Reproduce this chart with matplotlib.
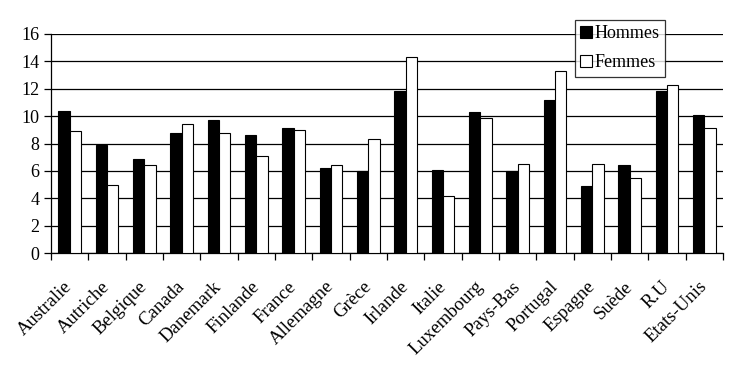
import numpy as np
import matplotlib
matplotlib.use("Agg")
import matplotlib.pyplot as plt
import matplotlib.transforms as mtransforms

pays = ["Australie", "Autriche", "Belgique", "Canada", "Danemark", "Finlande",
        "France", "Allemagne", "Grèce", "Irlande", "Italie", "Luxembourg",
        "Pays-Bas", "Portugal", "Espagne", "Suède", "R.U", "Etats-Unis"]
hommes = [10.4, 7.9, 6.9, 8.8, 9.7, 8.6, 9.1, 6.2, 6.0, 11.8, 6.1, 10.3,
          6.0, 11.2, 4.9, 6.4, 11.8, 10.1]
femmes = [8.9, 5.0, 6.4, 9.4, 8.8, 7.1, 9.0, 6.4, 8.3, 14.3, 4.2, 9.9,
          6.5, 13.3, 6.5, 5.5, 12.3, 9.1]

plt.rcParams['font.family'] = ['Liberation Serif', 'DejaVu Serif']

fig = plt.figure(figsize=(7.45, 3.69), dpi=100)
ax = fig.add_axes([0.0685, 0.314, 0.902, 0.594])

x = np.arange(len(pays))
w = 0.3
ax.bar(x - w / 2, hommes, w, color='black', edgecolor='black', linewidth=0.8,
       label='Hommes', zorder=3)
ax.bar(x + w / 2, femmes, w, color='white', edgecolor='black', linewidth=0.8,
       label='Femmes', zorder=3)

ax.set_xlim(-0.5, len(pays) - 0.5)
ax.set_ylim(0, 16)
ax.set_yticks(range(0, 17, 2))
ax.yaxis.grid(True, color='black', linewidth=0.9, zorder=0)
ax.set_axisbelow(True)

ax.set_xticks(x)
ax.set_xticklabels(pays, rotation=45, ha='right', rotation_mode='anchor', fontsize=13.5)
ax.set_xticks(np.arange(-0.5, len(pays)), minor=True)
ax.tick_params(axis='x', which='major', length=0, pad=18)
ax.tick_params(axis='x', which='minor', length=5, width=0.9)
ax.tick_params(axis='y', length=5, width=0.9, labelsize=13)

shift = mtransforms.ScaledTranslation(-6 / 100, 0, fig.dpi_scale_trans)
for lab in ax.get_xticklabels():
    lab.set_transform(lab.get_transform() + shift)

for s in ['top', 'right']:
    ax.spines[s].set_visible(False)
ax.spines['left'].set_linewidth(0.9)
ax.spines['bottom'].set_linewidth(0.9)

leg = fig.legend(loc='upper left', bbox_to_anchor=(575 / 745, 1 - 20 / 369),
                 fontsize=13, frameon=True, fancybox=False, edgecolor='black',
                 handlelength=0.65, handleheight=0.65, handletextpad=0.15,
                 borderpad=0.3, labelspacing=0.65, borderaxespad=0)
leg.get_frame().set_linewidth(0.9)

fig.savefig("out.png", dpi=100)
